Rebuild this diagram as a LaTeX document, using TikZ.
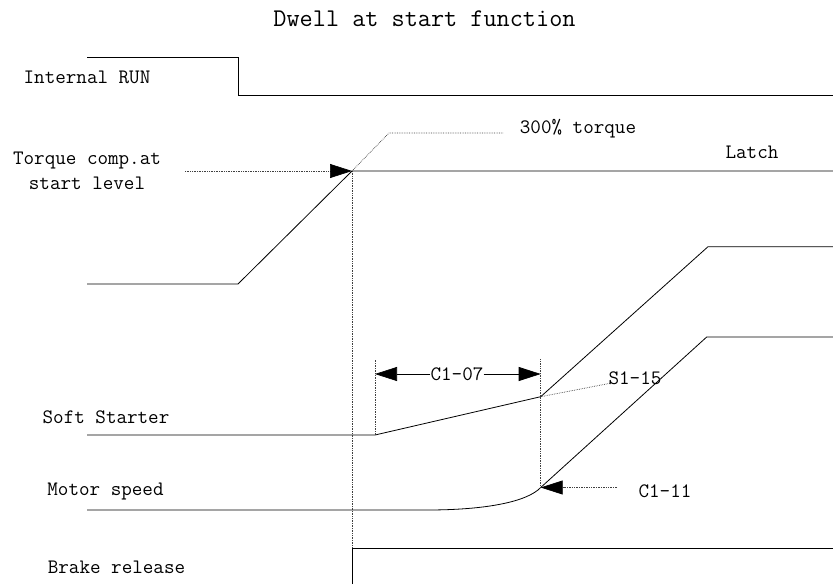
\documentclass[tikz,border=0pt]{standalone}
\usepackage{tikz}
\usetikzlibrary{arrows.meta}

\newcommand{\lbl}{\fontsize{20.5}{25}\selectfont\ttfamily}
\newcommand{\ttl}{\fontsize{25.5}{30}\selectfont\ttfamily}

\begin{document}
\begin{tikzpicture}[x=1pt, y=-1pt, font=\lbl, inner sep=0pt]
        \tikzstyle{sig} = [line width=0.8pt]
        \tikzstyle{aux} = [densely dotted, line width=0.7pt, black!75]
        \tikzstyle{tip} = [-{Triangle[length=22pt, width=14pt, color=black, fill=black]}, line width=0.7pt]
        \useasboundingbox (0,0) rectangle (833,584);
        % labels
        \node (T) at (424.5,19) {\ttl Dwell at start function};
        \node (RUN) at (87,77) {Internal RUN};
        \node[align=center] (TQ) at (87,170.5) {Torque comp.at\\start level};
        \node (P300) at (578,129) {300\% torque};
        \node (L) at (752,152) {Latch};
        \node (SS) at (106,417) {Soft Starter};
        \node (MS) at (105.5,492) {Motor speed};
        \node (BR) at (116.5,567) {Brake release};
        \node (C7) at (457,374) {C1-07};
        \node (S15) at (635,378) {S1-15};
        \node (C11) at (665,491) {C1-11};
        % corners
        \coordinate (K) at (352,171);
        \coordinate (A) at (375,435);
        \coordinate (B) at (540.7,396.7);
        \coordinate (M) at (540.7,487.5);
        \coordinate (H) at (352,548);
        % signals
        \draw[sig] (87,57) -- (238,57) -- (238,95) -- (833,95);
        \draw[sig] (87,284) -- (238,284) -- (K) -- (833,171);
        \draw[sig] (87,435) -- (A) -- (B) -- (708,246.7) -- (833,246.7);
        \draw[sig] (87,510) -- (427,510) .. controls (485,510) and (527,502) .. (M)
                -- (706.7,337) -- (833,337);
        \draw[sig] (352,584) -- (H) -- (833,548);
        % guides
        \draw[aux] (K) -- (389,133) -- (503,133);
        \draw[aux] (K) -- (H);
        \draw[aux] (A) -- (375,359);
        \draw[aux] (M) -- (540.7,359);
        \draw[aux] (B) -- (610,383.3);
        % arrows
        \draw[aux, tip] (185,171) -- (K);
        \path[tip]
        (C7) edge (375,374)
        (C7) edge (540.7,374);
        \draw[aux, tip] (617,487.5) -- (M);
    \end{tikzpicture}
\end{document}
